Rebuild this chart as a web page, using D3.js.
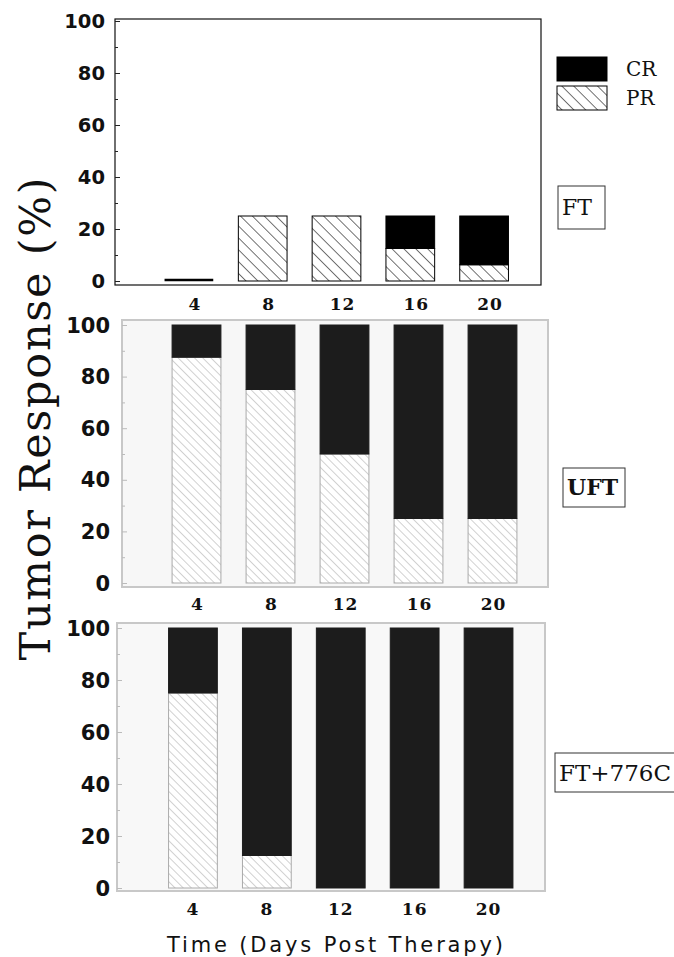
<!DOCTYPE html>
<html>
<head>
<meta charset="utf-8">
<script src="https://cdn.jsdelivr.net/npm/d3@7"></script>
<style>
  html, body { margin: 0; padding: 0; background: #fff; }
  svg { display: block; }
</style>
</head>
<body>
<div id="chart"></div>
<script>
// ---- data ----
const days = ["4", "8", "12", "16", "20"];
const ftCR = [0, 0, 0, 12.5, 18.75];
const ftPR = [0, 25, 25, 12.5, 6.25];
const uftCR = [12.5, 25, 50, 75, 75];
const uftPR = [87.5, 75, 50, 25, 25];
const ft776cCR = [25, 87.5, 100, 100, 100];
const ft776cPR = [75, 12.5, 0, 0, 0];
const yTicks = [0, 20, 40, 60, 80, 100];
const yMinorTicks = [10, 30, 50, 70, 90];
const panelNames = ["FT", "UFT", "FT+776C"];
const legendLabels = ["CR", "PR"];
const xTitle = "Time (Days Post Therapy)";
const yTitle = "Tumor Response (%)";

const W = 674, H = 957;
const svg = d3.select("#chart").append("svg").attr("width", W).attr("height", H);
const defs = svg.append("defs");

function hatch(id, s, color, sw) {
  const p = defs.append("pattern").attr("id", id)
    .attr("patternUnits", "userSpaceOnUse")
    .attr("width", s).attr("height", s)
    .attr("patternTransform", "rotate(-45)");
  p.append("line").attr("x1", 0).attr("y1", -1).attr("x2", 0).attr("y2", s + 1)
    .attr("stroke", color).attr("stroke-width", sw);
}
hatch("hatchTop", 8.4, "#000", 1.1);
hatch("hatchGray", 5.8, "#9a9a9a", 0.9);

// ---- panel layouts ----
const panels = [
  { name: panelNames[0], cr: ftCR, pr: ftPR,
    frame: [115, 19, 541, 285], yr: [281, 21], xr: [152, 521],
    bg: "none", frameColor: "#111", frameW: 1.2, hatch: "hatchTop", prStroke: "#000", crFill: "#000",
    tickColor: "#222", labelX: 105, labelSize: 19.5, xLabelY: 310, xdx: 6,
    box: [558, 186, 47, 43], boxTextSize: 22, boxBold: false },
  { name: panelNames[1], cr: uftCR, pr: uftPR,
    frame: [122, 320, 548, 587], yr: [583, 325], xr: [159.5, 529.5],
    bg: "#f7f7f7", frameColor: "#c8c8c8", frameW: 2, hatch: "hatchGray", prStroke: "#aaa", crFill: "#1c1c1c",
    tickColor: "#bbb", labelX: 110, labelSize: 21, xLabelY: 610, xdx: 1,
    box: [563, 468, 62, 39], boxTextSize: 22, boxBold: true },
  { name: panelNames[2], cr: ft776cCR, pr: ft776cPR,
    frame: [117, 623, 545, 891], yr: [888, 628], xr: [156, 525.5],
    bg: "#f8f8f8", frameColor: "#c8c8c8", frameW: 2, hatch: "hatchGray", prStroke: "#aaa", crFill: "#1c1c1c",
    tickColor: "#bbb", labelX: 110, labelSize: 21, xLabelY: 915, xdx: 0,
    box: [555, 753, 125, 39], boxTextSize: 23, boxBold: false }
];

panels.forEach(p => {
  const g = svg.append("g");
  const [fx0, fy0, fx1, fy1] = p.frame;
  const x = d3.scaleBand().domain(days).range(p.xr).paddingInner(0.34).paddingOuter(0.17);
  const y = d3.scaleLinear().domain([0, 100]).range(p.yr);

  g.append("rect").attr("x", fx0).attr("y", fy0).attr("width", fx1 - fx0).attr("height", fy1 - fy0)
    .attr("fill", p.bg).attr("stroke", p.frameColor).attr("stroke-width", p.frameW);

  // y axis ticks (inward) + labels
  const yAxis = d3.axisRight(y).tickValues(yTicks).tickSize(5).tickFormat("");
  const ya = g.append("g").attr("transform", `translate(${fx0},0)`).call(yAxis);
  ya.select(".domain").remove();
  ya.selectAll("line").attr("stroke", p.tickColor);
  const yMinor = d3.axisRight(y).tickValues(yMinorTicks).tickSize(3).tickFormat("");
  const ym = g.append("g").attr("transform", `translate(${fx0},0)`).call(yMinor);
  ym.select(".domain").remove();
  ym.selectAll("line").attr("stroke", p.tickColor);

  g.selectAll("text.ylab").data(yTicks).join("text").attr("class", "ylab")
    .attr("x", p.labelX).attr("y", d => y(d)).attr("dy", "0.36em")
    .attr("text-anchor", "end")
    .attr("font-family", "DejaVu Sans").attr("font-weight", "bold").attr("font-size", p.labelSize)
    .attr("fill", "#111")
    .text(d => d);

  // bars
  const data = days.map((d, i) => ({ day: d, cr: p.cr[i], pr: p.pr[i] }));
  data.forEach(d => {
    const bx = x(d.day), bw = x.bandwidth();
    if (d.cr + d.pr === 0) {
      g.append("line").attr("x1", bx).attr("x2", bx + bw)
        .attr("y1", y(0) - 1).attr("y2", y(0) - 1)
        .attr("stroke", "#000").attr("stroke-width", 2.5);
      return;
    }
    if (d.pr > 0) {
      g.append("rect").attr("x", bx).attr("width", bw)
        .attr("y", y(d.pr)).attr("height", y(0) - y(d.pr))
        .attr("fill", "#fff").attr("stroke", "none");
      g.append("rect").attr("x", bx).attr("width", bw)
        .attr("y", y(d.pr)).attr("height", y(0) - y(d.pr))
        .attr("fill", `url(#${p.hatch})`).attr("stroke", p.prStroke).attr("stroke-width", 1);
    }
    if (d.cr > 0) {
      g.append("rect").attr("x", bx).attr("width", bw)
        .attr("y", y(d.pr + d.cr)).attr("height", y(d.pr) - y(d.pr + d.cr))
        .attr("fill", p.crFill).attr("stroke", p.crFill).attr("stroke-width", 1);
    }
  });

  // x tick labels
  g.selectAll("text.xlab").data(days).join("text").attr("class", "xlab")
    .attr("x", d => x(d) + x.bandwidth() / 2 + p.xdx).attr("y", p.xLabelY)
    .attr("text-anchor", "middle")
    .attr("font-family", "DejaVu Serif").attr("font-weight", "bold").attr("font-size", 17)
    .attr("letter-spacing", "1").attr("fill", "#111")
    .text(d => d);

  // panel name box
  const [bx, by, bw, bh] = p.box;
  g.append("rect").attr("x", bx).attr("y", by).attr("width", bw).attr("height", bh)
    .attr("fill", "#fff").attr("stroke", "#333").attr("stroke-width", 1);
  g.append("text").attr("x", bx + 4).attr("y", by + bh / 2).attr("dy", "0.36em")
    .attr("font-family", "DejaVu Serif").attr("font-size", p.boxTextSize)
    .attr("font-weight", p.boxBold ? "bold" : "normal").attr("fill", "#111")
    .text(p.name);
});

// legend
const legend = svg.append("g");
const legendFill = ["#000", "url(#hatchTop)"];
legendLabels.forEach((lab, i) => {
  const ly = 57 + i * 29;
  legend.append("rect").attr("x", 557).attr("y", ly).attr("width", 50).attr("height", 24)
    .attr("fill", "#fff").attr("stroke", "none");
  legend.append("rect").attr("x", 557).attr("y", ly).attr("width", 50).attr("height", 24)
    .attr("fill", legendFill[i]).attr("stroke", "#000").attr("stroke-width", 1);
  legend.append("text").attr("x", 626).attr("y", ly + 12).attr("dy", "0.36em")
    .attr("font-family", "DejaVu Serif").attr("font-size", 20).attr("fill", "#111")
    .text(lab);
});

// axis titles
svg.append("text").attr("x", 335).attr("y", 952).attr("text-anchor", "middle")
  .attr("font-family", "DejaVu Sans").attr("font-size", 21).attr("fill", "#111")
  .attr("textLength", 336).attr("lengthAdjust", "spacing")
  .text(xTitle);

svg.append("text").attr("transform", "translate(50,419) rotate(-90)")
  .attr("text-anchor", "middle")
  .attr("font-family", "DejaVu Serif").attr("font-size", 43).attr("fill", "#111")
  .attr("textLength", 483).attr("lengthAdjust", "spacing")
  .text(yTitle);
</script>
</body>
</html>
